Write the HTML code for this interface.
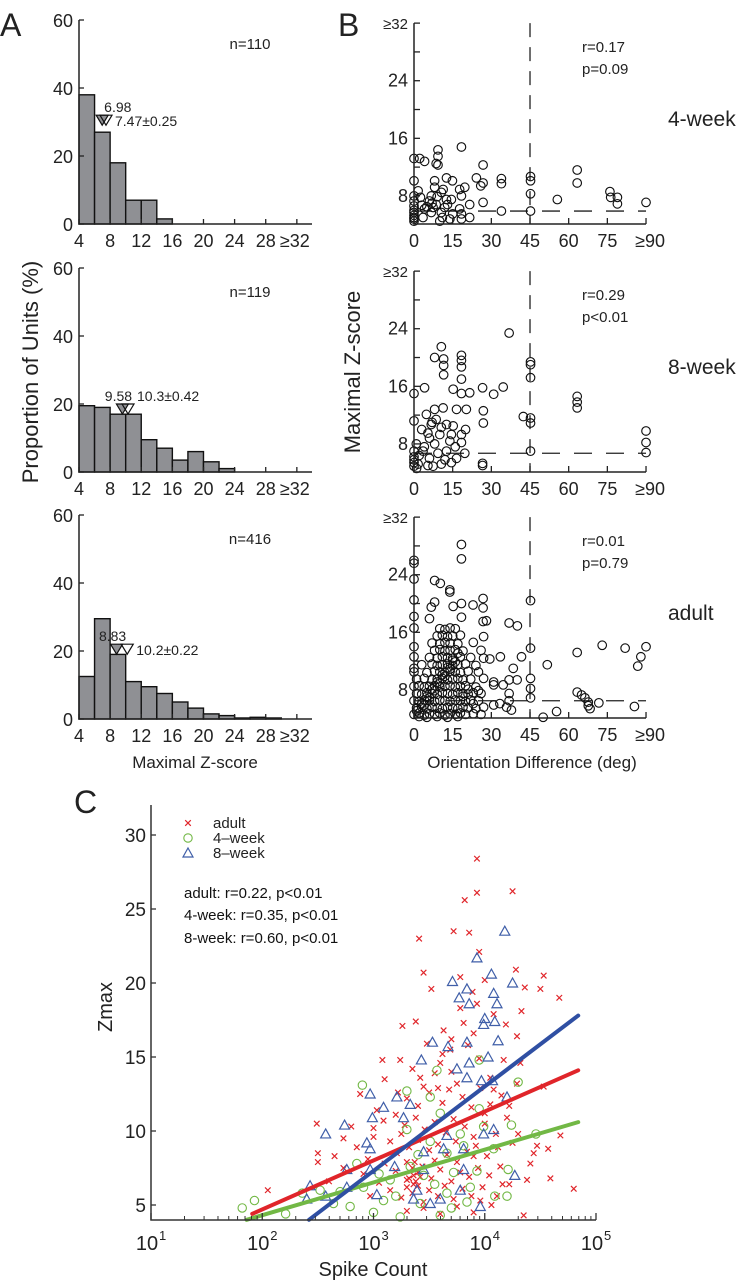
<!DOCTYPE html>
<html><head><meta charset="utf-8"><style>
html,body{margin:0;padding:0;background:#fff;}
svg{display:block;font-family:"Liberation Sans",sans-serif;}
</style></head><body>
<svg id="fig" width="747" height="1280" viewBox="0 0 747 1280" xmlns="http://www.w3.org/2000/svg"></svg>
<script>
// ---------- DATA ----------
const histBinStarts = [4,6,8,10,12,14,16,18,20,22,24,26,28,30];
const hist4wk = [38,27,18,7,7,1.5,0,0,0,0,0,0,0,0];
const hist8wk = [19.5,19,17,17,9.5,7,3.5,6,3,1,0,0,0,0];
const histAdult = [12.5,29.5,19,11,9.5,7.5,5,3.2,1.5,1,0.3,0.5,0.3,0];
const histTicks = [4,8,12,16,20,24,28,32];
const histTickLabels = ["4","8","12","16","20","24","28","≥32"];
const histYTicks = [0,20,40,60];
const histN = ["n=110","n=119","n=416"];
const histMedian = [6.98,9.58,8.83];
const histMean = [7.47,10.3,10.2];
const histMeanLabel = ["7.47±0.25","10.3±0.42","10.2±0.22"];
const histMarkerLevel = [32,20,22];

const oriTicks = [0,15,30,45,60,75,90];
const oriTickLabels = ["0","15","30","45","60","75","≥90"];
const zTicks = [8,12,16,20,24,28,32];
const zTickLabels = {8:"8",16:"16",24:"24",32:"≥32"};
const thresh = [5.9,6.7,6.5];
const statR = ["r=0.17","r=0.29","r=0.01"];
const statP = ["p=0.09","p<0.01","p=0.79"];
const groupNames = ["4-week","8-week","adult"];
const ori4wk = [0,13.2,2.2,13.2,4.1,12.8,9.3,14.4,9.3,13.5,8.6,12.5,9.3,12.3,18.4,14.8,26.8,12.3,0,10.1,8,10.1,12.6,10.5,14.9,10.1,24.2,10.5,26.8,9.8,25.9,9.4,33.9,10.4,33.9,9.7,45.2,10.7,45.2,10.1,45.2,8.3,63.3,11.6,63.3,9.8,55.6,7.5,76,8.6,76.3,7.8,78.9,7.8,78.9,6.9,90,7.1,33.9,5.9,45.2,5.9,26.8,7.1,21.6,6.8,18.4,8.0,19.7,9.2,17.7,8.9,21.6,5.0,18.4,4.8,13.9,4.8,10,4.5,1.6,8.7,0,8.0,2.5,7.8,6.7,8.0,10.6,8.5,12.6,7.5,14.5,7.5,6,7.3,8.6,6.8,4.1,6.2,6.7,5.7,10.6,5.7,3.5,5.0,0,6.6,0,5.7,0,5.0,0,4.5,8,9.2,11.3,8.9,7.4,6.4,11.9,6.4,17.7,6.2,18.4,5.5,0,7.3,0,6.0,0,5.3,0,4.8,5,6.5,7,7,9,7.9,11,5,13,6.8,15,5.5,3,6.7];
const ori8wk = [36.9,23.4,10.6,21.5,8,20.0,11.5,19.8,11.5,18.9,11.5,17.6,18.4,20.3,18.4,19.6,18.4,18.7,18.4,17,45.2,19.4,45.2,19,45.2,17.2,4.1,15.8,0,15,15.2,15.6,18.4,15,21.6,15.1,26.6,15.8,30.9,14.9,34.6,15.9,63.3,14.6,63.3,13.8,63.3,13.0,0,11.2,26.9,12.6,26.9,10.9,42.4,11.8,45.2,11.6,45.2,10.9,45.2,7.0,90,9.8,90,8.2,90,6.8,26.6,5.3,26.6,5.0,4.8,12.1,8,12.8,11.3,13,16.5,12.8,20.3,12.8,8.6,11.4,12.6,10.7,5.4,9.5,10,9.3,14.5,9.3,18.4,9.3,18.4,8.2,0.9,8.0,3.5,7.0,8,8.0,12.6,7.0,19.7,6.7,0,7.0,0,6.2,0,5.4,0,4.9,1.6,5.2,5.4,5.0,7.4,4.9,10.6,5.2,14.5,5.4,16.5,6.0,6,6.0,9.3,6.7,13.9,8.4,10.6,10.3,6.7,10.7,15.2,10.5,0,5.8,2,6.4,4,7.6,6,8.8,7,11,3,10,16,7.6,20,10,1,4.6,12,5.8];
const oriAdult = [18.4,28.2,18.4,26.2,0,26,0,25.6,0,23.4,8,23.2,10.2,22.8,13.9,21.9,13.9,21.6,0,20.5,8,20.2,6.7,19.5,15.2,19.6,18.4,20,22.9,19.8,26.8,20.7,26.8,19.4,45.2,20.4,0,18.2,6,17.9,18.4,18.1,26.8,17.5,28.1,17.6,36.9,17.3,40.1,16.9,0,16.6,0,14,45.2,13.8,63.3,13.2,73,14.2,81.9,13.8,90,14,88,12.6,86.8,11.3,51.7,11.5,41.7,12.6,33.5,12.6,29.4,12.3,0,12.6,0,11.0,45.2,9.6,45.2,8.2,45.2,6.9,40,9.4,38.5,11,36.9,9.4,34.6,8.7,30.9,9.1,30.9,8.7,36.9,7.5,36.9,6.5,37.8,5.2,35.9,5.6,33.3,6.1,30.9,5.9,50.1,4.2,55.3,5.0,63.3,7.7,65,7.3,66.3,6.9,67.6,6.3,67.6,5.8,68.3,5.4,71.7,6.2,85.5,5.7,
0,4.6,2,4.8,4,4.5,6,4.7,8,4.6,10,4.8,12,4.5,14,4.7,16,4.6,18,4.8,20,4.6,23,4.7,26,4.6,
1,5.5,3,5.6,5,5.4,7,5.6,9,5.5,11,5.4,13,5.6,15,5.5,17,5.4,19,5.6,21,5.5,24,5.4,27,5.6,
0,6.5,2,6.4,4,6.6,6,6.5,8,6.4,10,6.6,12,6.5,14,6.4,16,6.6,18,6.5,20,6.4,22,6.6,25,6.5,
1,7.5,3,7.4,5,7.6,7,7.5,9,7.4,11,7.6,13,7.5,15,7.4,17,7.6,19,7.5,21,7.4,23,7.6,26,7.5,
0,8.5,2,8.6,4,8.4,6,8.5,8,8.6,10,8.4,12,8.5,14,8.6,16,8.4,18,8.5,20,8.6,24,8.4,
1,9.5,4,9.6,7,9.4,9,9.5,11,9.6,13,9.4,15,9.5,17,9.6,19,9.4,22,9.5,27,9.6,
0,10.5,5,10.4,8,10.6,10,10.5,12,10.4,14,10.6,16,10.5,18,10.4,21,10.6,25,10.5,
3,11.5,7,11.6,9,11.4,11,11.5,13,11.6,15,11.4,17,11.5,20,11.6,24,11.4,
6,12.5,9,12.4,11,12.6,13,12.5,15,12.4,18,12.6,22,12.5,27,12.4,
8,13.5,10,13.6,12,13.4,14,13.5,16,13.6,19,13.4,26,13.5,
7,14.5,10,14.4,12,14.6,14,14.5,17,14.4,23,14.6,
9,15.5,11,15.6,13,15.4,15,15.5,18,15.6,27,15.4,
10,16.5,12,16.4,14,16.6,16,16.5,
1,5.1,3,6.1,5,7.1,7,8.1,9,9.1,11,10.1,13,11.1,15,12.1,17,13.1,2,4.3,4,5.9,6,6.9,8,7.9,10,8.9,12,9.9,14,10.9,16,11.9,19,7.1,21,8.1,23,6.1,25,7.9,5,4.2,9,4.3,13,4.2,17,4.3];

const cYTicks = [5,10,15,20,25,30];
const cXDecades = [1,2,3,4,5];
const spikeAdult = [3.93,28.4,3.93,26.1,4.25,26.2,3.82,25.6,3.72,23.5,3.86,23.4,3.41,23.0,3.95,22.1,3.45,20.7,3.52,19.6,3.78,20.4,4.0,20.2,4.28,20.9,4.53,20.5,4.36,19.7,4.5,19.6,4.67,19.0,4.33,18.1,3.78,18.3,3.89,19.4,3.26,17.1,3.38,17.4,3.63,16.8,3.81,17.3,4.19,17.2,4.29,16.4,3.08,14.8,3.24,14.8,3.48,15.9,3.69,15.5,4.17,14.8,4.32,14.6,4.53,13.0,4.29,13.2,2.49,10.5,2.5,8.5,2.5,7.9,2.05,6.0,2.73,9.5,2.85,8.9,2.88,12.5,3.03,11.4,3.09,10.7,3.21,8.5,4.68,9.7,4.57,8.8,4.59,6.8,4.8,6.1,4.35,4.3,4.41,7.8,4.38,6.7,4.44,8.5,4.11,5.6,3.96,5.3,2.73,7.5,2.91,7.1,2.97,5.6,3.3,6.2,3.36,6.4,
3.35,14.2,3.42,13.6,3.55,13.9,3.6,14.6,3.7,14.0,3.75,13.2,3.85,15.8,3.9,16.6,3.95,14.9,4.05,13.6,3.3,12.2,3.4,11.7,3.5,12.6,3.62,11.9,3.68,12.8,3.8,12.3,3.88,11.6,3.96,12.9,4.05,11.8,4.15,12.4,3.2,11.1,3.28,10.4,3.38,10.9,3.46,10.1,3.55,10.6,3.65,9.9,3.72,10.8,3.82,10.3,3.9,9.6,4.0,10.5,4.1,9.8,4.2,10.9,3.15,9.3,3.25,9.8,3.32,8.9,3.4,9.4,3.5,8.7,3.58,9.1,3.66,8.4,3.74,9.3,3.84,8.6,3.92,9.0,4.02,8.3,4.12,8.9,4.25,9.2,3.1,7.8,3.2,7.3,3.3,7.9,3.36,7.0,3.44,7.6,3.52,6.8,3.6,7.4,3.7,6.6,3.78,7.2,3.86,6.9,3.94,7.5,4.04,7.0,4.14,7.6,4.22,6.4,3.05,6.5,3.15,6.0,3.25,5.5,3.3,6.7,3.35,5.8,3.4,6.3,3.45,5.2,3.5,6.0,3.58,5.6,3.64,6.3,3.72,5.4,3.8,6.1,3.88,5.6,3.98,6.2,4.06,5.0,4.16,6.4,3.3,4.6,3.45,4.8,3.6,4.4,3.75,4.9,3.9,4.5,2.95,8.1,3.0,9.6,2.8,10.3,2.6,6.6,2.65,8.3,
3.35,7.5,3.38,6.6,3.4,7.2,3.42,6.9,3.32,6.8,3.37,7.9,3.45,13.0,3.58,12.9,3.7,16.2,3.62,15.2,3.93,18.6,4.08,17.9,3.55,8.0,3.75,7.9,3.9,8.3,4.0,11.2,4.08,12.8,4.3,9.8,4.47,9.0,4.22,11.7,3.1,13.5,3.22,12.6,3.0,10.2];
const spike4wk = [1.82,4.8,1.93,5.3,2.21,4.4,2.36,5.8,2.52,6.0,2.64,5.1,2.79,4.9,2.9,13.1,3.3,12.7,3.57,14.1,3.95,14.8,4.3,13.3,4.24,10.4,4.46,9.8,4.08,8.8,4.21,7.4,4.09,5.6,3.84,5.2,3.6,4.3,3.24,4.2,3.0,4.5,3.09,5.3,3.51,12.3,3.66,8.5,3.78,9.8,3.99,10.3,3.45,7.0,3.33,7.6,3.72,7.2,3.87,6.2,3.42,5.1,3.15,6.7,2.91,6.2,3.66,5.8,3.93,7.3,4.2,5.6,2.85,7.8,3.51,9.3,3.81,9.0,3.3,10.1,3.6,11.2,3.4,8.4,3.55,6.4,3.7,4.8,3.2,5.6,2.7,5.9,3.05,7.1,3.95,11.5];
const spike8wk = [4.18,23.5,3.93,21.7,3.71,20.1,4.06,20.6,4.25,20.0,3.84,19.6,3.77,19.0,4.08,19.3,3.86,18.6,4.11,18.6,4.0,17.6,3.99,17.2,4.09,17.4,4.12,16.1,3.53,16.0,3.67,15.7,3.84,16.0,3.43,14.8,3.86,14.6,4.03,15.0,3.75,14.2,3.84,13.6,3.97,13.4,4.07,13.4,2.97,12.5,3.09,11.6,3.21,12.3,3.33,11.8,2.74,10.4,2.57,9.8,2.99,10.9,3.27,10.9,2.94,9.2,2.97,8.8,2.76,7.4,2.97,7.4,3.19,7.6,2.43,6.3,2.4,5.4,2.57,5.6,2.76,6.2,3.03,5.7,3.36,5.4,3.51,5.1,3.6,5.4,3.45,8.6,3.63,8.8,3.81,8.8,3.99,9.8,4.08,10.1,4.2,12.3,4.27,7.0,3.96,4.9,3.78,6.0,3.39,6.0,3.66,9.7,3.81,7.4,3.45,7.4];
const fitX = [[1.91,4.84],[1.86,4.84],[2.42,4.84]];
const fitY = [[4.4,14.1],[4.0,10.6],[4.0,17.8]];

// ---------- helpers ----------
const NS="http://www.w3.org/2000/svg";
const svg=document.getElementById('fig');
function mk(tag,attrs,parent){const e=document.createElementNS(NS,tag);for(const k in attrs)e.setAttribute(k,attrs[k]);(parent||svg).appendChild(e);return e;}
function txt(s,x,y,size,anchor,parent,extra){const t=mk('text',Object.assign({x:x,y:y,'font-size':size,'text-anchor':anchor||'start',fill:'#222'},extra||{}),parent);t.textContent=s;return t;}

// ---------- Panel A ----------
const aBase=[224,472,719];
const xA=v=>79+(v-4)*7.78;
const yA=(p,i)=>aBase[i]-p*3.4;
const hists=[hist4wk,hist8wk,histAdult];
for(let i=0;i<3;i++){
  const g=mk('g',{});
  
  
  hists[i].forEach((v,j)=>{ if(v<=0) return;
    const r=mk('rect',{x:xA(histBinStarts[j]),y:yA(v,i),width:xA(histBinStarts[j]+2)-xA(histBinStarts[j]),height:yA(0,i)-yA(v,i),fill:'#8f9094',stroke:'#111','stroke-width':1.4},g);
    
    
  });
  const ax=mk('path',{d:`M${xA(4)},${yA(60,i)}V${yA(0,i)}H312`,stroke:'#222','stroke-width':1.5,fill:'none'},g);
  
  
  histYTicks.forEach(t=>{mk('line',{x1:xA(4),x2:xA(4)+5,y1:yA(t,i),y2:yA(t,i),stroke:'#222','stroke-width':1.3},g);
    const l=txt(String(t),73,yA(t,i)+7,18,'end',g);
    
    });
  histTicks.forEach((t,k)=>{mk('line',{x1:xA(t),x2:xA(t),y1:yA(0,i),y2:yA(0,i)-5,stroke:'#222','stroke-width':1.3},g);
    const l=txt(histTickLabels[k],xA(t)+(k==7?-2:0),yA(0,i)+23,18,'middle',g);
    
    });
  const n=txt(histN[i],250,yA(60,i)+29,15,'middle',g);
  
  
  const ty=yA(histMarkerLevel[i],i);
  const m1=mk('path',{d:`M${xA(histMedian[i])-6},${ty}h12l-6,10z`,fill:'#8f9094',stroke:'#111','stroke-width':1.2},g);
  
  
  const m2=mk('path',{d:`M${xA(histMean[i])-6},${ty}h12l-6,10z`,fill:'none',stroke:'#111','stroke-width':1.2},g);
  
  
  const t1=txt(histMedian[i].toFixed(2),xA(histMedian[i])+(i==0?2:-4),ty-3,14,i==0?'start':'middle',g);
  
  
  const t2=txt(histMeanLabel[i],xA(histMean[i])+9,i==1?ty-3:ty+11,14,'start',g);
  
  
}
let e;
e=txt('A',0,36,32,'start');
e=txt('Proportion of Units (%)',0,0,22,'middle',null,{transform:'translate(38,372) rotate(-90)'});
e=txt('Maximal Z-score',195,768,17,'middle');

// ---------- Panel B ----------
const bBot=[224,472,718];
const xB=d=>414+d*2.578;
const yB=(z,i)=>bBot[i]-(z-4.1)*7.2;
const oris=[ori4wk,ori8wk,oriAdult];
for(let i=0;i<3;i++){
  const g=mk('g',{});
  
  
  const vl=mk('line',{x1:xB(45),x2:xB(45),y1:yB(32,i),y2:bBot[i],stroke:'#222','stroke-width':1.3,'stroke-dasharray':'14,10'},g);
  
  
  const hl=mk('line',{x1:xB(0),x2:xB(90),y1:yB(thresh[i],i),y2:yB(thresh[i],i),stroke:'#222','stroke-width':1.3,'stroke-dasharray':'18,14'},g);
  
  
  const d=oris[i];
  for(let k=0;k<d.length;k+=2){
    const c=mk('circle',{cx:xB(d[k]),cy:yB(d[k+1],i),r:4.3,fill:'none',stroke:'#111','stroke-width':1.15},g);
    
    
  }
  const ax=mk('path',{d:`M${xB(0)},${yB(32,i)}V${bBot[i]}H${xB(90)}`,stroke:'#222','stroke-width':1.5,fill:'none'},g);
  
  
  zTicks.forEach(t=>{mk('line',{x1:xB(0),x2:xB(0)+6,y1:yB(t,i),y2:yB(t,i),stroke:'#222','stroke-width':1.3},g);
    if(zTickLabels[t]){const l=txt(zTickLabels[t],408,yB(t,i)+6,t==32?15:18,'end',g);
      
      }});
  oriTicks.forEach((t,k)=>{mk('line',{x1:xB(t),x2:xB(t),y1:bBot[i],y2:bBot[i]-6,stroke:'#222','stroke-width':1.3},g);
    const l=txt(oriTickLabels[k],xB(t)+(k==6?4:0),bBot[i]+23,18,'middle',g);
    
    });
  const r=txt(statR[i],582,yB(32,i)+29,15,'start',g);
  
  
  const p=txt(statP[i],582,yB(32,i)+51,15,'start',g);
  
  
  const gn=txt(groupNames[i],668,yB(32,i)+103,21,'start',g);
  
  
}
e=txt('B',338,36,32,'start');
e=txt('Maximal Z-score',0,0,22,'middle',null,{transform:'translate(360,372) rotate(-90)'});
e=txt('Orientation Difference (deg)',532,768,17,'middle');

// ---------- Panel C ----------
const xC=l=>151+(l-1)*111.25;
const yC=z=>835+(30-z)*14.8;
const gc=mk('g',{});


function cross(x,y,col,parent){const p=mk('path',{d:`M${x-2.8},${y-2.8}l5.6,5.6M${x-2.8},${y+2.8}l5.6,-5.6`,stroke:col,'stroke-width':1.2,fill:'none'},parent);return p;}
function circ(x,y,col,parent){return mk('circle',{cx:x,cy:y,r:4.2,fill:'none',stroke:col,'stroke-width':1.1},parent);}
function tri(x,y,col,parent){return mk('path',{d:`M${x},${y-5}L${x+5},${y+4}H${x-5}Z`,fill:'none',stroke:col,'stroke-width':1.2},parent);}
for(let k=0;k<spikeAdult.length;k+=2){const p=cross(xC(spikeAdult[k]),yC(spikeAdult[k+1]),'#e0252a',gc);
  
  }
for(let k=0;k<spike4wk.length;k+=2){const p=circ(xC(spike4wk[k]),yC(spike4wk[k+1]),'#72b845',gc);
  
  }
for(let k=0;k<spike8wk.length;k+=2){const p=tri(xC(spike8wk[k]),yC(spike8wk[k+1]),'#3f5ea8',gc);
  
  }
const fitCols=['#e0252a','#72b845','#2f4fa3'];
const fitNames=['adult-fit-line','4-week-fit-line','8-week-fit-line'];
for(let i=0;i<3;i++){const l=mk('line',{x1:xC(fitX[i][0]),y1:yC(fitY[i][0]),x2:xC(fitX[i][1]),y2:yC(fitY[i][1]),stroke:fitCols[i],'stroke-width':4,'stroke-linecap':'round'},gc);
  
  }
e=mk('path',{d:`M151,805V1220H596`,stroke:'#333','stroke-width':1.5,fill:'none'});

cYTicks.forEach(t=>{mk('line',{x1:151,x2:156,y1:yC(t),y2:yC(t),stroke:'#333','stroke-width':1.3});
  const l=txt(String(t),146,yC(t)+7,19,'end');
  
  });
cXDecades.forEach(d=>{mk('line',{x1:xC(d),x2:xC(d),y1:1220,y2:1213,stroke:'#333','stroke-width':1.3});
  if(d<5){for(let m=2;m<10;m++){const x=xC(d+Math.log10(m));mk('line',{x1:x,x2:x,y1:1220,y2:1216,stroke:'#333','stroke-width':1});}}
  const l=txt('10',xC(d)-4,1250,20,'middle');
  
  
  const s=txt(String(d),xC(d)+8,1240,13,'start');
  
  });
e=txt('Spike Count',373,1276,20,'middle');
e=txt('Zmax',0,0,20,'middle',null,{transform:'translate(112,1007) rotate(-90)'});
e=txt('C',74,813,32,'start');
// legend
const lg=mk('g',{});


e=cross(188,823,'#e0252a',lg);
e=circ(188,838,'#72b845',lg);
e=tri(188,853,'#3f5ea8',lg);
e=txt('adult',213,828,15,'start',lg);
e=txt('4\u2013week',213,843,15,'start',lg);
e=txt('8\u2013week',213,858,15,'start',lg);
e=txt('adult: r=0.22, p<0.01',184,898,15,'start',null,{fill:'#111'});
e=txt('4-week: r=0.35, p<0.01',184,920,15,'start',null,{fill:'#111'});
e=txt('8-week: r=0.60, p<0.01',184,943,15,'start',null,{fill:'#111'});
</script>
</body></html>
